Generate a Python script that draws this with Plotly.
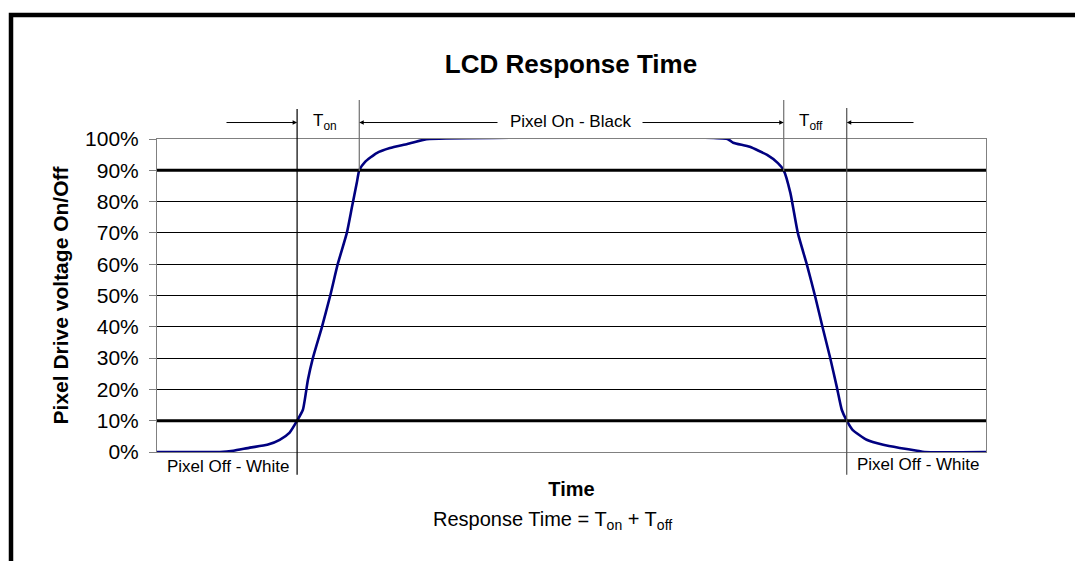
import plotly.graph_objects as go

# ---- data ----
time = [0, 7.6, 9.2, 11.2, 13.3, 14.8, 16.0, 16.9, 17.6, 18.2, 18.8, 19.9, 20.9, 21.8,
        22.9, 23.5, 24.1, 24.4, 25.1, 26.5, 28.1, 30.2, 32.1, 32.9,
        68.8, 69.5, 71.5, 73.6, 74.9, 75.6, 76.4, 77.3, 78.4, 79.4, 80.3, 81.2,
        82.0, 82.6, 83.2, 83.9, 85.6, 87.6, 89.6, 91.7, 92.6, 100]
voltage = [0, 0, 0.4, 1.4, 2.3, 3.9, 6.2, 10, 13.5, 23, 30, 40, 50, 60,
           70, 78, 86, 90, 92.7, 95.5, 97.1, 98.4, 99.7, 100,
           100, 98.8, 97.5, 94.9, 92.3, 90, 82.8, 70, 59.8, 49.6, 39.7, 30.1,
           20.8, 13.5, 10, 7.1, 3.9, 2.3, 1.3, 0.4, 0, 0]
thresholds = [10, 90]
event_times = [16.9, 24.4, 75.6, 83.2]   # Ton start, Ton end, Toff start, Toff end
y_ticks = [0, 10, 20, 30, 40, 50, 60, 70, 80, 90, 100]
y_tick_labels = ["0%", "10%", "20%", "30%", "40%", "50%", "60%", "70%", "80%", "90%", "100%"]

# page body has an 8px margin; work in window pixels and shift
OFF = 8
W, H = 1083 - OFF, 561 - OFF
L, T = 157 - OFF, 139 - OFF
PW, PH = 829, 313.3
R = W - L - PW
B = H - T - PH

def pxx(px):
    return (px - OFF - L) / PW

def pxy(py):
    return (T + PH - (py - OFF)) / PH

FONT = "Arial, Liberation Sans, sans-serif"

fig = go.Figure()
fig.add_trace(go.Scatter(x=time, y=voltage, mode="lines",
                         line=dict(color="#000080", width=2.6, shape="spline", smoothing=0.5),
                         showlegend=False, hoverinfo="skip", cliponaxis=False))

shapes = []
# thick 10% / 90% lines
for th in thresholds:
    shapes.append(dict(type="line", xref="paper", yref="y", x0=0, x1=1, y0=th, y1=th,
                       line=dict(color="black", width=3), layer="above"))
# vertical event markers
ev_style = [
    (pxy(475), pxy(109), "black"),
    (pxy(171), pxy(100), "#707070"),
    (pxy(171), pxy(100), "#707070"),
    (pxy(475), pxy(108), "#505050"),
]
for t, (ya, yb, c) in zip(event_times, ev_style):
    shapes.append(dict(type="line", xref="x", yref="paper", x0=t, x1=t, y0=ya, y1=yb,
                       line=dict(color=c, width=1.2), layer="above"))
# outer frame
shapes.append(dict(type="rect", xref="paper", yref="paper",
                   x0=pxx(11), x1=pxx(1110), y0=pxy(15), y1=pxy(600),
                   line=dict(color="black", width=4.5), fillcolor="rgba(0,0,0,0)"))

annotations = []
ay_arrow = pxy(122.5)
x_scale = 100 / PW

def arrow(tail_px, head_time):
    return dict(x=head_time, y=ay_arrow, xref="x", yref="paper",
                ax=(tail_px - 157) * x_scale, ay=0, axref="x", ayref="pixel",
                text="", showarrow=True, arrowhead=2, arrowsize=0.9,
                arrowwidth=1, arrowcolor="black", standoff=0, startstandoff=0)

annotations.append(arrow(225, event_times[0]))
annotations.append(arrow(499, event_times[1]))
annotations.append(arrow(641, event_times[2]))
annotations.append(arrow(915, event_times[3]))

lab = dict(showarrow=False, font=dict(family=FONT, size=17, color="black"),
           xref="paper", yref="paper")
annotations.append(dict(text="Pixel On - Black", x=pxx(570), y=pxy(121),
                        xanchor="center", yanchor="middle", **lab))
annotations.append(dict(text="T<sub>on</sub>", x=pxx(325), y=pxy(122),
                        xanchor="center", yanchor="middle", **lab))
annotations.append(dict(text="T<sub>off</sub>", x=pxx(811), y=pxy(122),
                        xanchor="center", yanchor="middle", **lab))
annotations.append(dict(text="Pixel Off - White", x=pxx(228), y=pxy(467),
                        xanchor="center", yanchor="middle", **lab))
annotations.append(dict(text="Pixel Off - White", x=pxx(918), y=pxy(465),
                        xanchor="center", yanchor="middle", **lab))
annotations.append(dict(text="Response Time = T<sub>on</sub> + T<sub>off</sub>",
                        x=pxx(552), y=pxy(521), xanchor="center", yanchor="middle",
                        showarrow=False, font=dict(family=FONT, size=20, color="black"),
                        xref="paper", yref="paper"))

fig.update_layout(
    width=W, height=H,
    margin=dict(l=L, r=R, t=T, b=B, pad=0),
    paper_bgcolor="white", plot_bgcolor="white",
    font=dict(family=FONT, color="black"),
    title=dict(text="<b>LCD Response Time</b>", x=pxx(571), xref="paper",
               y=1 - (64 - OFF) / H, yref="container", xanchor="center", yanchor="middle",
               font=dict(family=FONT, size=26, color="black")),
    showlegend=False,
    shapes=shapes,
    annotations=annotations,
    xaxis=dict(range=[0, 100], showticklabels=False, ticks="", showgrid=False,
               zeroline=False, showline=True, linecolor="#808080", linewidth=1,
               mirror=True,
               title=dict(text="<b>Time</b>", standoff=29,
                          font=dict(family=FONT, size=20, color="black"))),
    yaxis=dict(range=[0, 100], tickmode="array", tickvals=y_ticks, ticktext=y_tick_labels,
               showgrid=True, gridcolor="black", gridwidth=1, zeroline=False,
               showline=True, linecolor="#808080", linewidth=1, mirror=True,
               ticks="outside", ticklen=7, tickcolor="#808080",
               ticklabelstandoff=6,
               tickfont=dict(family=FONT, size=21, color="black"),
               title=dict(text="<b>Pixel Drive voltage On/Off</b>", standoff=10,
                          font=dict(family=FONT, size=21, color="black"))),
)

fig.write_html("out.html")
